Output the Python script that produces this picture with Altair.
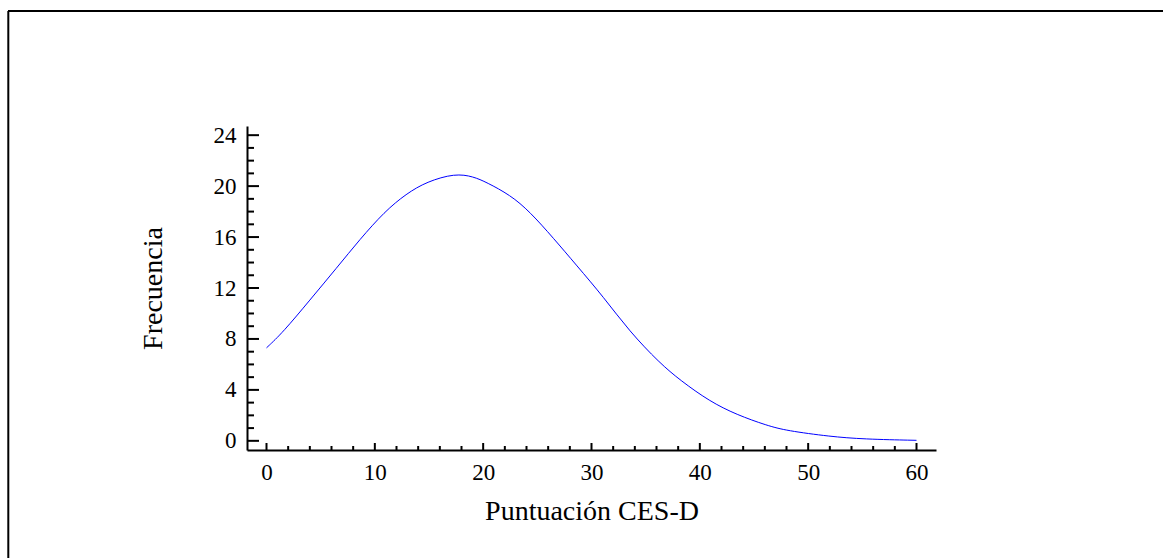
import altair as alt
import pandas as pd

# Curve
score = [0, 1.5, 4.0, 6.5, 8.6, 10.9, 12.9, 14.8, 17.4, 19.1, 20.3, 22.5, 24.3,
         26.5, 28.6, 31.1, 33.5, 36.3, 38.2, 40.9, 43.4, 46.2, 48.0, 52.0, 55.1, 60]
freq = [7.3, 8.5, 11.05, 13.6, 15.8, 18.0, 19.4, 20.35, 21.0, 20.75, 20.3, 19.3, 18.0,
        15.9, 13.8, 11.3, 8.6, 6.1, 4.75, 3.1, 2.05, 1.2, 0.8, 0.34, 0.13, 0.04]

x_major = [0, 10, 20, 30, 40, 50, 60]
x_minor = [v for v in range(0, 61, 2) if v % 10 != 0]
y_major = [0, 4, 8, 12, 16, 20, 24]
y_minor = [v for v in range(0, 25) if v % 4 != 0]

x_title = "Puntuación CES-D"
y_title = "Frecuencia"

W, H = 689, 324
PL, PT = 247, 126
CW, CH = 1163, 558

FONT = "Liberation Serif"

xs = alt.Scale(domain=[-1.8, 61.8], nice=False, zero=False)
ys = alt.Scale(domain=[-0.72, 24.72], nice=False, zero=False)

curve_df = pd.DataFrame({"x": score, "y": freq})

curve = alt.Chart(curve_df).mark_line(color="#0000ff", strokeWidth=1, interpolate="basis").encode(
    x=alt.X("x:Q", scale=xs, axis=alt.Axis(
        title=x_title, values=x_major, ticks=False, tickSize=0, grid=False,
        domainColor="black", domainWidth=2, labelFont=FONT, labelFontSize=23,
        labelColor="black", labelPadding=11, titleFont=FONT, titleFontSize=28,
        titleFontWeight="normal", titleColor="black", titlePadding=13)),
    y=alt.Y("y:Q", scale=ys, axis=alt.Axis(
        title=y_title, values=y_major, ticks=False, tickSize=0, grid=False,
        domainColor="black", domainWidth=2, labelFont=FONT, labelFontSize=23,
        labelColor="black", labelPadding=11, titleFont=FONT, titleFontSize=28,
        titleFontWeight="normal", titleColor="black", titlePadding=46)),
)

ymaj = alt.Chart(pd.DataFrame({"v": y_major})).mark_rule(color="black", strokeWidth=2).encode(
    y=alt.Y("v:Q", scale=ys), x=alt.value(0), x2=alt.value(12))
ymin = alt.Chart(pd.DataFrame({"v": y_minor})).mark_rule(color="black", strokeWidth=2).encode(
    y=alt.Y("v:Q", scale=ys), x=alt.value(0), x2=alt.value(7))
xmaj = alt.Chart(pd.DataFrame({"v": x_major})).mark_rule(color="black", strokeWidth=2).encode(
    x=alt.X("v:Q", scale=xs), y=alt.value(H), y2=alt.value(H - 7))
xmin = alt.Chart(pd.DataFrame({"v": x_minor})).mark_rule(color="black", strokeWidth=2).encode(
    x=alt.X("v:Q", scale=xs), y=alt.value(H), y2=alt.value(H - 4))

# outer frame (top and left edges visible)
frame_top = alt.Chart(pd.DataFrame({"a": [0]})).mark_rule(color="black", strokeWidth=2).encode(
    x=alt.value(8 - PL), x2=alt.value(CW - PL + 10), y=alt.value(11 - PT))
frame_left = alt.Chart(pd.DataFrame({"a": [0]})).mark_rule(color="black", strokeWidth=2).encode(
    x=alt.value(8.3 - PL), y=alt.value(11 - PT), y2=alt.value(CH - PT + 10))

chart = alt.layer(frame_top, frame_left, ymin, ymaj, xmin, xmaj, curve).properties(
    width=W, height=H,
    autosize=alt.AutoSizeParams(type="none"),
    padding={"left": PL, "top": PT, "right": CW - PL - W, "bottom": CH - PT - H},
    background="white",
).configure_view(stroke=None)

chart.save("out.html", embed_options={"renderer": "svg", "actions": False})
